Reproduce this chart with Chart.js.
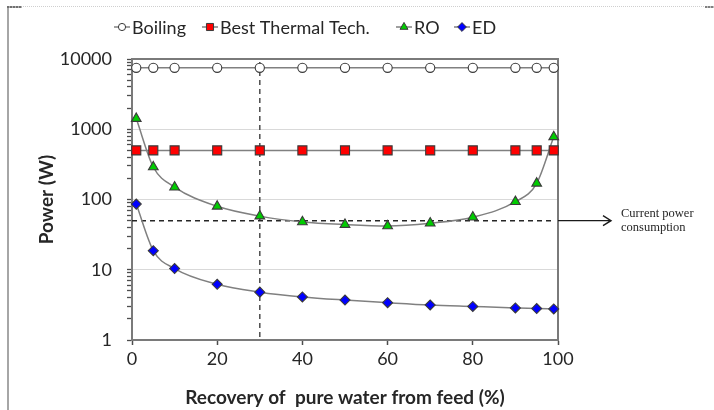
<!DOCTYPE html>
<html>
<head>
<meta charset="utf-8">
<title>Power vs recovery</title>
<script src="https://cdn.jsdelivr.net/npm/chart.js@4.4.1/dist/chart.umd.min.js"></script>
<style>
  html, body { margin: 0; padding: 0; background: #fff; }
  #wrap { position: relative; width: 714px; height: 410px; overflow: hidden; }
  canvas { position: absolute; left: 0; top: 0; }
  /* page edge lines around the figure */
  #edgeLeft { position: absolute; left: 7px; top: 6px; width: 2px; height: 404px; background: #a6a6a6; }
  #edgeTop { position: absolute; left: 9px; top: 6px; right: 0; border-top: 1px dotted #cfcfcf; }
  #edgeCorner { position: absolute; left: 7px; top: 6px; width: 15px; height: 2px;
    background: repeating-linear-gradient(90deg, #707070 0 2px, #b0b0b0 2px 3px); }
  #edgeCornerR { position: absolute; left: 705px; top: 6px; width: 9px; height: 2px;
    background: repeating-linear-gradient(90deg, #808080 0 2px, #c0c0c0 2px 3px); }
</style>
</head>
<body>
<div id="wrap">
  <canvas id="chart" width="714" height="410"></canvas>
  <div id="edgeLeft"></div>
  <div id="edgeTop"></div>
  <div id="edgeCorner"></div>
  <div id="edgeCornerR"></div>
</div>
<script>
// recovery of pure water (%) where each process was evaluated
const recovery = [1, 5, 10, 20, 30, 40, 50, 60, 70, 80, 90, 95, 99];

// power (W) per process
const boilingPower = [7500, 7500, 7500, 7500, 7500, 7500, 7500, 7500, 7500, 7500, 7500, 7500, 7500];
const thermalPower = [500, 500, 500, 500, 500, 500, 500, 500, 500, 500, 500, 500, 500];
const roPower = [1420, 290, 150, 80, 58, 48, 44, 42, 46, 56, 93, 170, 780];
const edPower = [86, 18.7, 10.4, 6.2, 4.8, 4.1, 3.7, 3.4, 3.15, 3.0, 2.86, 2.8, 2.77];

const seriesNames = ['Boiling', 'Best Thermal Tech.', 'RO', 'ED'];

// axes
const xTicks = [0, 20, 40, 60, 80, 100];
const yTicks = [1, 10, 100, 1000, 10000];

// reference lines
const currentPower = 50;
const chosenRecovery = 30;
const noteLines = ['Current power', 'consumption'];

const FONT = 'Lato, "Noto Sans", sans-serif';
const TEXT = '#262626';
const LINE = '#808080';
const AXIS = '#4d4d4d';

function toPoints(values) {
  return recovery.map((r, i) => ({ x: r, y: values[i] }));
}

// log axis marks: every 1..9 step inside each decade, labels only on decades
function logTickValues() {
  const out = [];
  for (let d = 0; d < yTicks.length - 1; d++) {
    for (let k = 1; k <= 9; k++) out.push(yTicks[d] * k);
  }
  out.push(yTicks[yTicks.length - 1]);
  return out;
}
const isDecade = v => yTicks.includes(v);

const markerStyles = [
  { pointStyle: 'circle',   fill: '#ffffff', radius: 4.6, legendR: 3.6 },
  { pointStyle: 'rect',     fill: '#ff0000', radius: 6.4, legendR: 5.0 },
  { pointStyle: 'triangle', fill: '#00cc00', radius: 5.6, legendR: 4.6 },
  { pointStyle: 'rectRot',  fill: '#0000ff', radius: 5.0, legendR: 4.4 }
];
const seriesValues = [boilingPower, thermalPower, roPower, edPower];

const datasets = seriesNames.map((name, i) => ({
  label: name,
  data: toPoints(seriesValues[i]),
  borderColor: LINE,
  borderWidth: 1.5,
  cubicInterpolationMode: 'monotone',
  pointStyle: markerStyles[i].pointStyle,
  pointRadius: markerStyles[i].radius,
  pointBackgroundColor: markerStyles[i].fill,
  pointBorderColor: '#3a3a3a',
  pointBorderWidth: 1.1,
  clip: false
}));

// small marker painter for the legend row
function paintMarker(ctx, style, x, y, r, fill) {
  ctx.save();
  ctx.fillStyle = fill;
  ctx.strokeStyle = '#3a3a3a';
  ctx.lineWidth = 1;
  ctx.beginPath();
  if (style === 'circle') {
    ctx.arc(x, y, r, 0, Math.PI * 2);
  } else if (style === 'rect') {
    const s = r * Math.SQRT1_2;
    ctx.rect(x - s, y - s, 2 * s, 2 * s);
  } else if (style === 'triangle') {
    ctx.moveTo(x, y - r);
    ctx.lineTo(x + r * 0.866, y + r * 0.5);
    ctx.lineTo(x - r * 0.866, y + r * 0.5);
    ctx.closePath();
  } else {
    ctx.moveTo(x, y - r);
    ctx.lineTo(x + r, y);
    ctx.lineTo(x, y + r);
    ctx.lineTo(x - r, y);
    ctx.closePath();
  }
  ctx.fill();
  ctx.stroke();
  ctx.restore();
}

const legendX = [122, 210, 404, 462];
const legendY = 27;

const legendRow = {
  id: 'legendRow',
  afterDraw(chart) {
    const ctx = chart.ctx;
    ctx.save();
    ctx.font = '18px ' + FONT;
    ctx.textBaseline = 'middle';
    seriesNames.forEach((name, i) => {
      const cx = legendX[i];
      ctx.strokeStyle = LINE;
      ctx.lineWidth = 1.5;
      ctx.beginPath();
      ctx.moveTo(cx - 8, legendY);
      ctx.lineTo(cx + 8, legendY);
      ctx.stroke();
      paintMarker(ctx, markerStyles[i].pointStyle, cx, legendY, markerStyles[i].legendR, markerStyles[i].fill);
      ctx.fillStyle = TEXT;
      ctx.fillText(name, cx + 10, legendY + 1);
    });
    ctx.restore();
  }
};

// plot box edges, dashed reference lines, arrow and note
const guides = {
  id: 'guides',
  beforeDatasetsDraw(chart) {
    const { ctx, chartArea: a, scales } = chart;
    const gx = scales.x.getPixelForValue(chosenRecovery);
    const gy = scales.y.getPixelForValue(currentPower);
    ctx.save();
    ctx.strokeStyle = '#7a7a7a';
    ctx.lineWidth = 2;
    ctx.strokeRect(a.left, a.top, a.right - a.left, a.bottom - a.top);

    ctx.lineWidth = 1.5;
    ctx.setLineDash([5, 4]);
    ctx.strokeStyle = '#4d4d4d';
    ctx.beginPath();
    ctx.moveTo(gx, a.top + 3);
    ctx.lineTo(gx, a.bottom);
    ctx.stroke();
    ctx.strokeStyle = '#262626';
    ctx.beginPath();
    ctx.moveTo(a.left, gy);
    ctx.lineTo(a.right - 5, gy);
    ctx.stroke();
    ctx.restore();
  },
  afterDraw(chart) {
    const { ctx, chartArea: a, scales } = chart;
    const gy = scales.y.getPixelForValue(currentPower);
    const tip = a.right + 53;
    ctx.save();
    ctx.strokeStyle = '#1a1a1a';
    ctx.lineWidth = 1.4;
    ctx.beginPath();
    ctx.moveTo(a.right, gy);
    ctx.lineTo(tip, gy);
    ctx.moveTo(tip - 8, gy - 5);
    ctx.lineTo(tip, gy);
    ctx.lineTo(tip - 8, gy + 5);
    ctx.stroke();
    ctx.fillStyle = '#262626';
    ctx.font = '12.5px "Liberation Serif", "Times New Roman", serif';
    ctx.textBaseline = 'middle';
    ctx.fillText(noteLines[0], tip + 10, gy - 7);
    ctx.fillText(noteLines[1], tip + 10, gy + 7.5);
    ctx.restore();
  }
};

new Chart(document.getElementById('chart'), {
  type: 'line',
  data: { datasets },
  plugins: [guides, legendRow],
  options: {
    responsive: false,
    animation: false,
    layout: { padding: { left: 0, top: 59, right: 156, bottom: 0 } },
    plugins: { legend: { display: false }, tooltip: { enabled: false } },
    scales: {
      x: {
        type: 'linear',
        position: 'bottom',
        min: 0,
        max: 100,
        afterBuildTicks(s) { s.ticks = xTicks.map(v => ({ value: v })); },
        afterFit(s) { s.height = 70; },
        grid: { display: true, drawOnChartArea: false, drawTicks: true, tickLength: 5, tickColor: AXIS, tickWidth: 1.5 },
        border: { color: AXIS, width: 2 },
        ticks: { font: { family: FONT, size: 18 }, color: TEXT, padding: 3, maxRotation: 0 },
        title: {
          display: true,
          text: 'Recovery of  pure water from feed (%)',
          font: { family: FONT, size: 19, weight: 'bold' },
          color: TEXT,
          padding: { top: 0, bottom: 1 }
        }
      },
      y: {
        type: 'logarithmic',
        position: 'left',
        min: 1,
        max: 10000,
        afterBuildTicks(s) { s.ticks = logTickValues().map(v => ({ value: v })); },
        afterFit(s) { s.width = 132; },
        grid: {
          drawTicks: true,
          tickLength: 5,
          tickColor: AXIS,
          tickWidth: 1.3,
          color: c => (c.tick && (c.tick.value === 10 || c.tick.value === 100 || c.tick.value === 1000)) ? '#d9d9d9' : 'rgba(0,0,0,0)',
          lineWidth: 1
        },
        border: { color: AXIS, width: 2 },
        ticks: {
          font: { family: FONT, size: 18 },
          color: TEXT,
          padding: 15,
          autoSkip: false,
          callback: v => isDecade(v) ? String(v) : ''
        },
        title: {
          display: true,
          text: 'Power (W)',
          font: { family: FONT, size: 19, weight: 'bold' },
          color: TEXT,
          padding: { top: 35, bottom: 0 }
        }
      }
    }
  }
});
</script>
</body>
</html>
